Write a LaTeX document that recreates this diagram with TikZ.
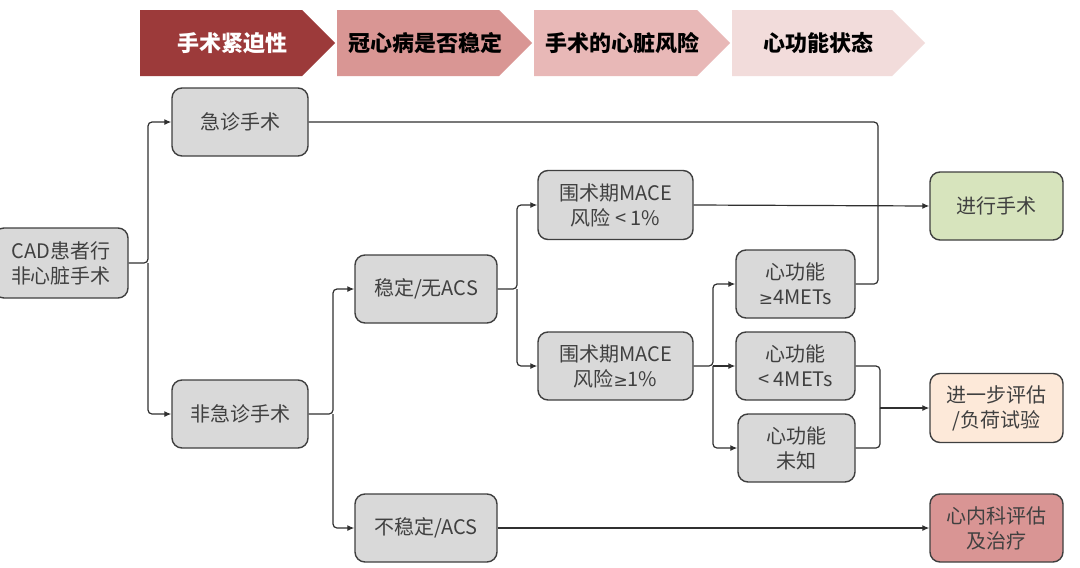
\documentclass[tikz,border=0pt]{standalone}
\usepackage{fontspec}
\newfontfamily\cjk{Noto Sans CJK SC}
\newfontfamily\symf{DejaVu Sans}
\usetikzlibrary{arrows.meta}
\definecolor{boxfill}{HTML}{D9D9D9}
\definecolor{boxline}{HTML}{3F3F3F}
\definecolor{txtgray}{HTML}{404040}
\definecolor{chA}{HTML}{9C3A3A}
\definecolor{chB}{HTML}{D99694}
\definecolor{chC}{HTML}{E8B8B7}
\definecolor{chD}{HTML}{F2DCDB}
\definecolor{okgreen}{HTML}{D7E4BD}
\definecolor{peach}{HTML}{FDE9D9}
\definecolor{redbox}{HTML}{D99594}
\definecolor{linecol}{HTML}{303030}
\newcommand{\mygeq}{{\symf\fontsize{17}{25}\selectfont ≥}}
\begin{document}
\begin{tikzpicture}[x=1pt,y=-1pt,
  box/.style={draw=boxline,line width=1.4pt,rounded corners=10pt,fill=boxfill,
    align=center,text=txtgray,inner sep=0pt,
    font=\cjk\fontsize{20}{25}\selectfont},
  chevtext/.style={inner sep=0pt,font=\cjk\bfseries\fontsize{22}{26}\selectfont},
  conn/.style={draw=linecol,line width=1.2pt,rounded corners=4pt},
  arr/.style={conn,-{Latex[length=7pt,width=6pt]}}]
\clip (0,0) rectangle (1080,568);
\fill[white] (0,0) rectangle (1080,568);
% header chevrons
\fill[chA] (140,10) -- (302,10) -- (335,43) -- (302,76) -- (140,76) -- cycle;
\fill[chB] (337,10) -- (499,10) -- (532,43) -- (499,76) -- (337,76) -- cycle;
\fill[chC] (534,10) -- (697,10) -- (730,43) -- (697,76) -- (534,76) -- cycle;
\fill[chD] (732,10) -- (892,10) -- (925,43) -- (892,76) -- (732,76) -- cycle;
\node[chevtext,text=white] (h1) at (232,43) {手术紧迫性};
\node[chevtext,text=black] (h2) at (425,43) {冠心病是否稳定};
\node[chevtext,text=black] (h3) at (622,43) {手术的心脏风险};
\node[chevtext,text=black] (h4) at (818,43) {心功能状态};
% boxes
\node[box,minimum width=134pt,minimum height=70pt] (cad) at (61,263) {CAD患者行\\非心脏手术};
\node[box,minimum width=136pt,minimum height=68pt] (em) at (240,122) {急诊手术};
\node[box,minimum width=136pt,minimum height=68pt] (nonem) at (240,414) {非急诊手术};
\node[box,minimum width=142pt,minimum height=68pt] (stable) at (426,289) {稳定/无ACS};
\node[box,minimum width=142pt,minimum height=68pt] (unstable) at (426,528) {不稳定/ACS};
\node[box,minimum width=155pt,minimum height=69pt] (mlow) at (615.5,205) {围术期MACE\\风险 < 1\%};
\node[box,minimum width=155pt,minimum height=68pt] (mhigh) at (615.5,366) {围术期MACE\\风险\mygeq1\%};
\node[box,minimum width=119pt,minimum height=68pt] (fge) at (795.5,284) {心功能\\\mygeq4METs};
\node[box,minimum width=119pt,minimum height=68pt] (flt) at (795.5,366) {心功能\\< 4METs};
\node[box,minimum width=117pt,minimum height=68pt] (funk) at (796.5,448) {心功能\\未知};
\node[box,fill=okgreen,minimum width=133pt,minimum height=68pt] (op) at (996.5,206) {进行手术};
\node[box,fill=peach,minimum width=133pt,minimum height=69pt] (fur) at (996.5,408) {进一步评估\\/负荷试验};
\node[box,fill=redbox,minimum width=133pt,minimum height=68pt] (cardio) at (996.5,528) {心内科评估\\及治疗};
% junction coordinates
\coordinate (j1) at (148,263);
\coordinate (j2) at (333,414);
\coordinate (j3) at (517,289);
\coordinate (j4) at (713,366);
\coordinate (jop) at (878,206);
\coordinate (jfur) at (880,408);
% connectors
\draw[arr] (cad.east) -- (j1) |- (em.west);
\draw[arr] (j1) |- (nonem.west);
\draw[arr] (nonem.east) -- (j2) |- (stable.west);
\draw[arr] (j2) |- (unstable.west);
\draw[arr] (stable.east) -- (j3) |- (mlow.west);
\draw[arr] (j3) |- (mhigh.west);
\draw[arr] (mhigh.east) -- (j4) |- (fge.west);
\draw[arr] (j4) -- (flt.west);
\draw[arr] (j4) |- (funk.west);
\draw[arr] (mlow.east) -- (op.west);
\draw[conn] (em.east) -| (jop);
\draw[conn] (fge.east) -| (jop);
\draw[conn] (flt.east) -| (jfur);
\draw[conn] (funk.east) -| (jfur);
\draw[arr] (jfur) -- (fur.west);
\draw[arr] (unstable.east) -- (cardio.west);
\end{tikzpicture}
\end{document}
